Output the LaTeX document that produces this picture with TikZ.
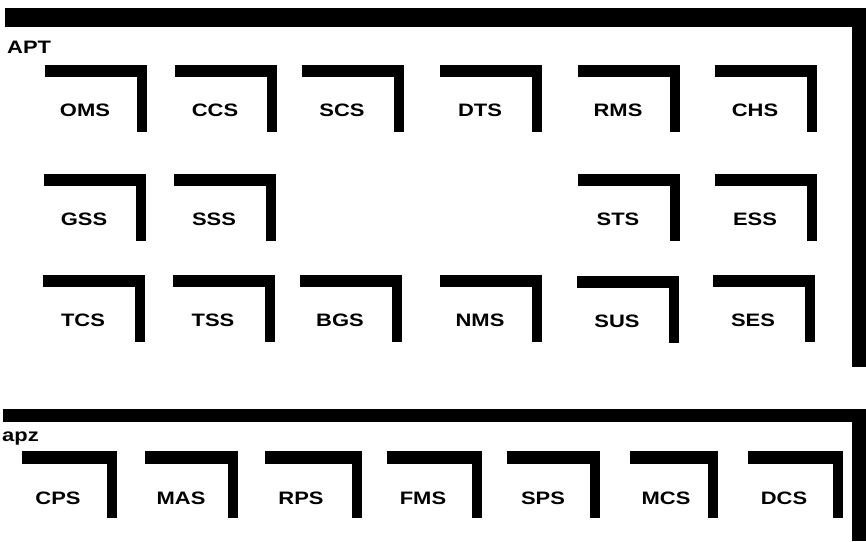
\documentclass[tikz,border=0pt]{standalone}
\usepackage{fontspec}
\newfontfamily\lblfont{Liberation Sans}[FakeStretch=1.22]
\tikzset{
  lbl/.style={font=\lblfont\bfseries\fontsize{18}{18}\selectfont, inner sep=0pt, anchor=center},
  grp/.style={font=\lblfont\bfseries\fontsize{18}{18}\selectfont, inner sep=0pt, anchor=base west},
  bar/.style={fill=black}
}
% name, left x, top y, label  (APT units: 102 wide, 67 high)
\newcommand{\aptunit}[4]{%
  \fill[bar] (#2,#3) rectangle ++(102,12);
  \fill[bar] (#2+92,#3) rectangle ++(10,67);
  \node[lbl] (#1) at (#2+40,#3+45) {#4};}
% name, left x, right x, label  (apz units)
\newcommand{\apzunit}[4]{%
  \fill[bar] (#2,451) rectangle (#3,464);
  \fill[bar] (#3-10,451) rectangle (#3,518);
  \node[lbl] (#1) at (#2+36,498) {#4};}
\begin{document}
\begin{tikzpicture}[x=1pt,y=-1pt]
\useasboundingbox (0,0) rectangle (866,541);
\fill[white] (0,0) rectangle (866,541);
% APT frame
\fill[bar] (5,8) rectangle (866,27);
\fill[bar] (852,8) rectangle (866,367);
\node[grp] (apt) at (7,53) {APT};
% row 1
\aptunit{oms}{45}{65}{OMS}
\aptunit{ccs}{175}{65}{CCS}
\aptunit{scs}{302}{65}{SCS}
\aptunit{dts}{440}{65}{DTS}
\aptunit{rms}{578}{65}{RMS}
\aptunit{chs}{715}{65}{CHS}
% row 2
\aptunit{gss}{44}{174}{GSS}
\aptunit{sss}{174}{174}{SSS}
\aptunit{sts}{578}{174}{STS}
\aptunit{ess}{715}{174}{ESS}
% row 3
\aptunit{tcs}{43}{275}{TCS}
\aptunit{tss}{173}{275}{TSS}
\aptunit{bgs}{300}{275}{BGS}
\aptunit{nms}{440}{275}{NMS}
\aptunit{sus}{577}{276}{SUS}
\aptunit{ses}{713}{275}{SES}
% apz frame
\fill[bar] (3,409) rectangle (866,422);
\fill[bar] (852,409) rectangle (866,541);
\node[grp] (apz) at (2,441) {apz};
\apzunit{cps}{22}{117}{CPS}
\apzunit{mas}{145}{238}{MAS}
\apzunit{rps}{265}{362}{RPS}
\apzunit{fms}{387}{482}{FMS}
\apzunit{sps}{507}{600}{SPS}
\apzunit{mcs}{630}{718}{MCS}
\apzunit{dcs}{748}{843}{DCS}
\end{tikzpicture}
\end{document}
